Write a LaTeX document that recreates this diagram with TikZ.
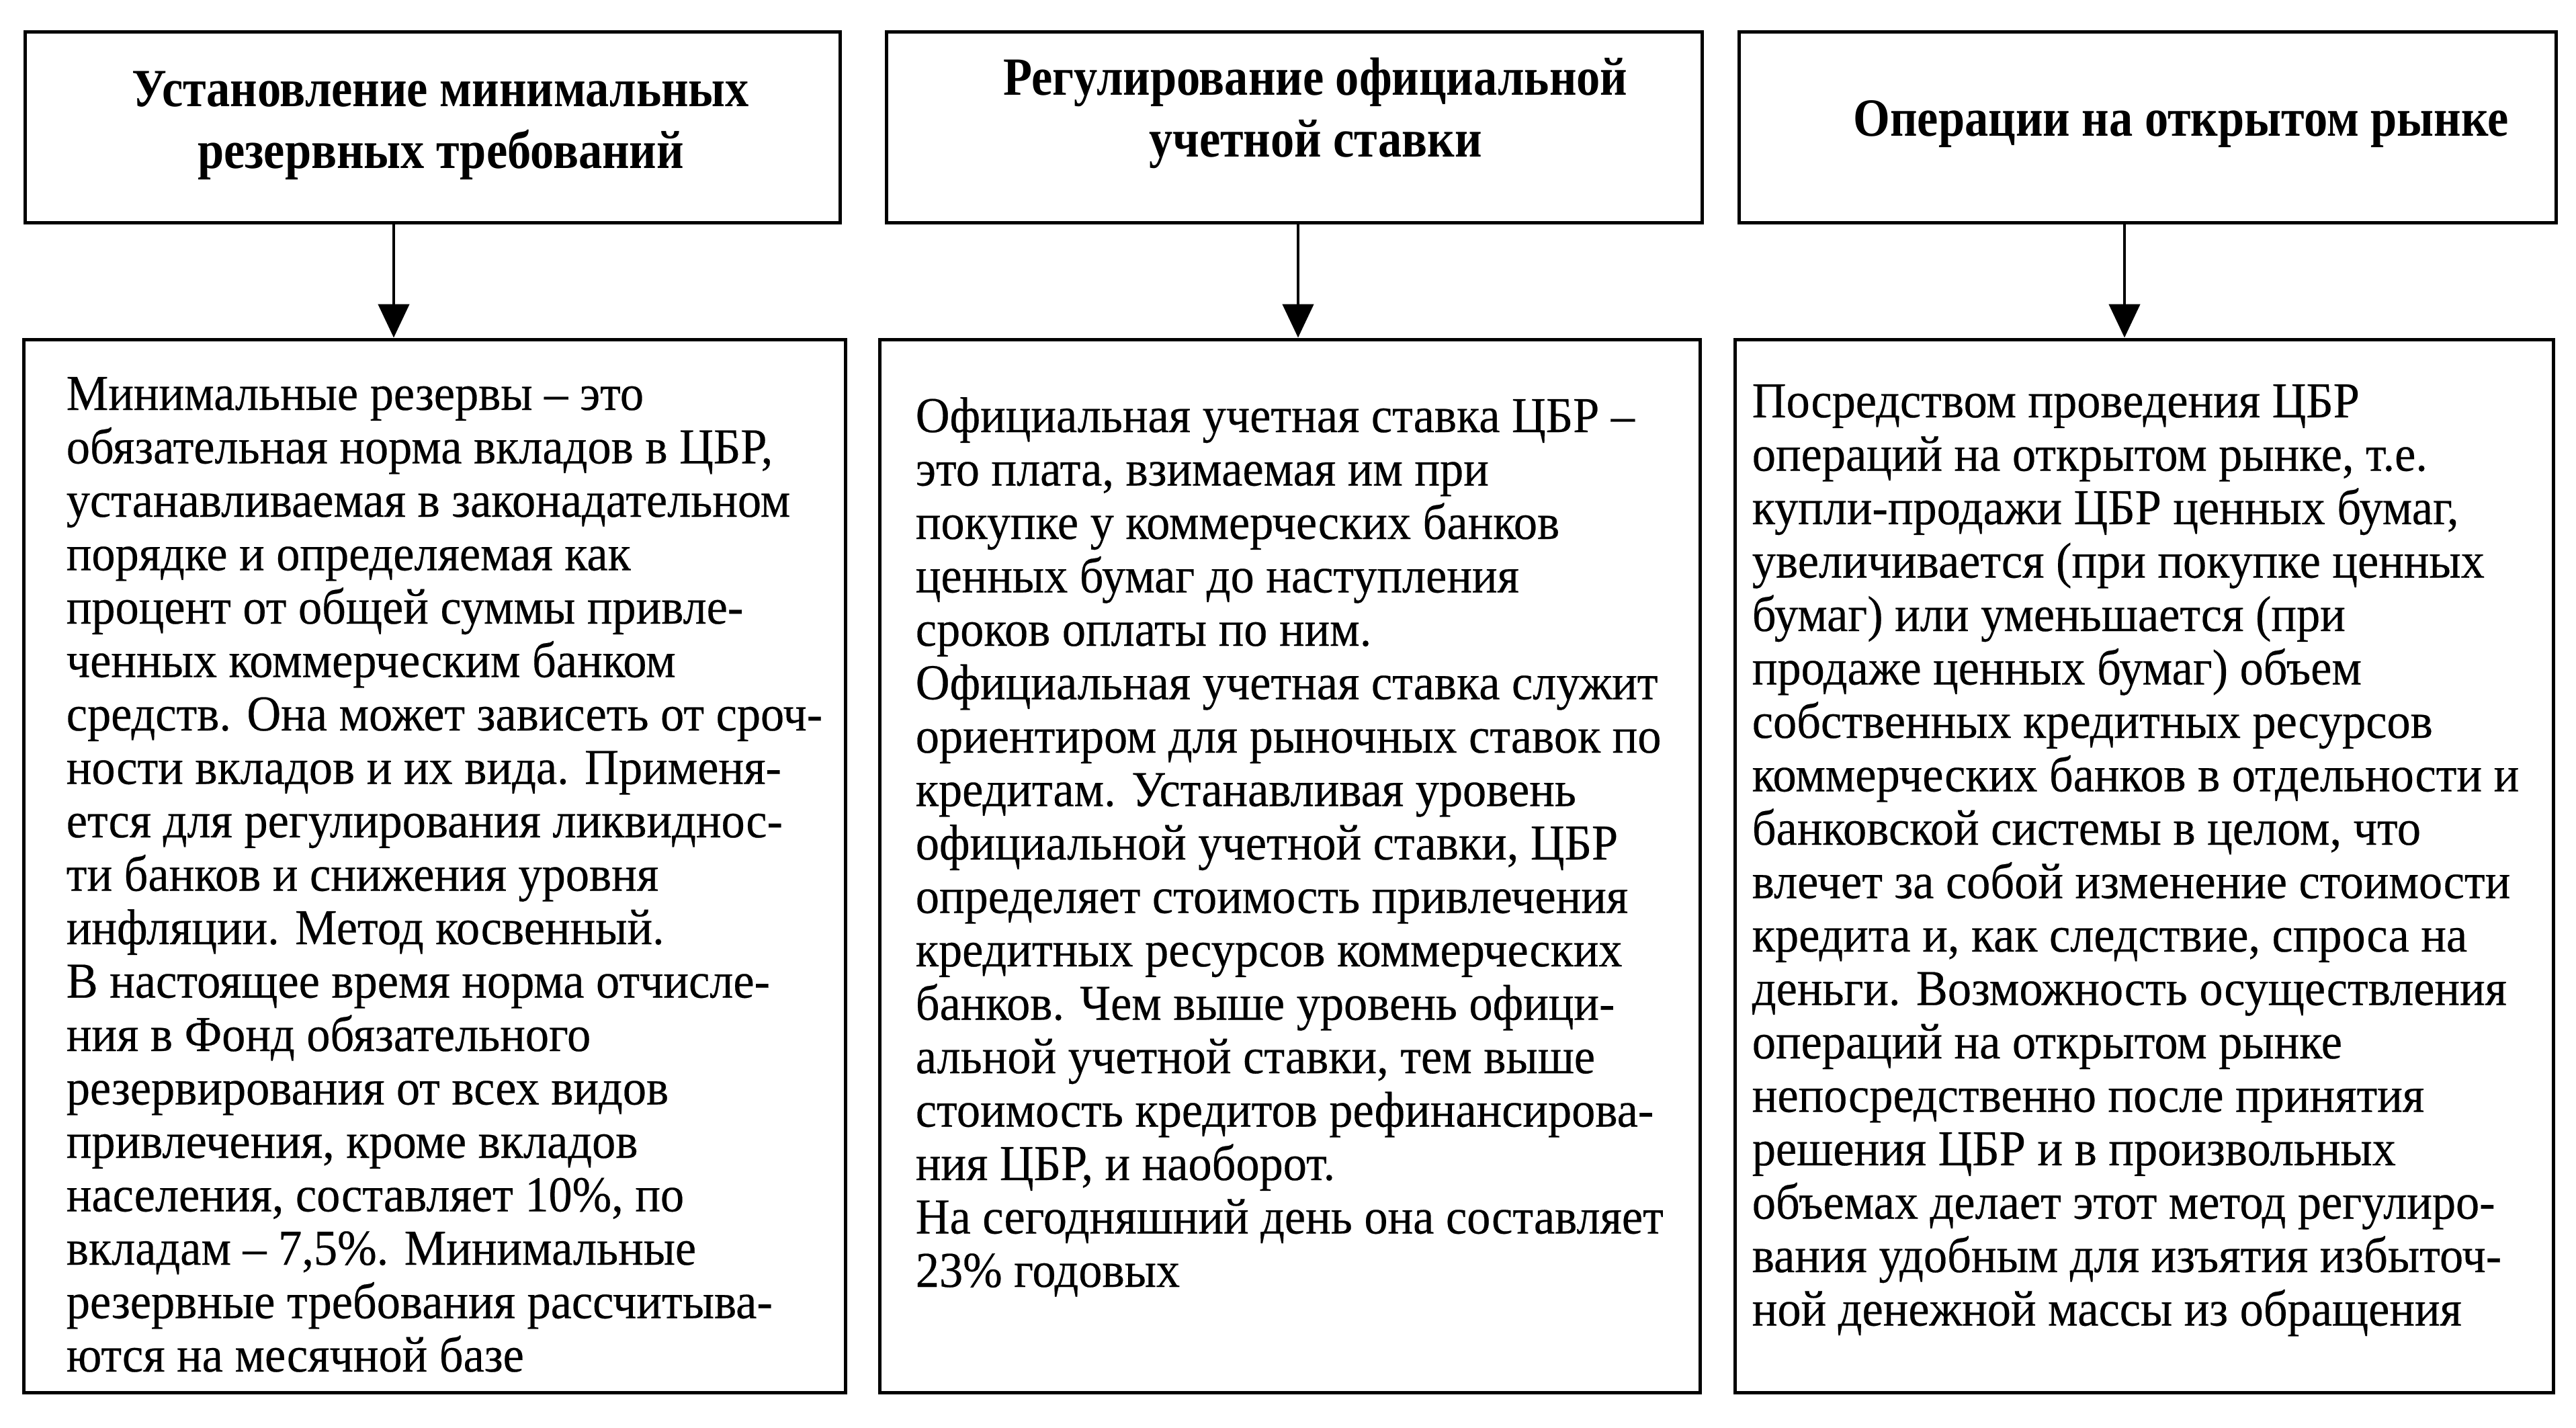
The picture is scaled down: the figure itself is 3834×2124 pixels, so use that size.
\documentclass[tikz,border=0pt]{standalone}
\usepackage{fontspec}
\setmainfont{Liberation Serif}
\newfontfamily\bodyfont{Liberation Serif}[FakeStretch=0.94,FakeBold=0.3]
\newfontfamily\headfont{Liberation Serif Bold}[FakeStretch=0.88]
\usetikzlibrary{arrows.meta}
\tikzset{
  box/.style={draw, line width=1.25pt, inner sep=0pt},
  head/.style={font=\headfont\fontsize{20}{23}\selectfont, inner sep=0pt, anchor=base},
  body/.style={font=\bodyfont\fontsize{18.7}{20}\selectfont, inner sep=0pt, anchor=base west},
  arr/.style={line width=1.2pt, -{Triangle[length=12.5pt,width=11.5pt]}}
}
\begin{document}
\begin{tikzpicture}[x=0.25pt,y=-0.25pt]
\fill[white] (0,0) rectangle (3834,2124);
\useasboundingbox (0,0) rectangle (3834,2124);

% top boxes
\node[box, minimum width=303.25pt, minimum height=71pt] (t1) at (643.5,189) {};
\node[box, minimum width=303.5pt, minimum height=71pt] (t2) at (1926,189) {};
\node[box, minimum width=304pt, minimum height=71pt] (t3) at (3196,189) {};

% bottom boxes
\node[box, minimum width=305.75pt, minimum height=391.75pt] (b1) at (646.5,1288.5) {};
\node[box, minimum width=305.25pt, minimum height=391.75pt] (b2) at (1919.5,1288.5) {};
\node[box, minimum width=304.5pt, minimum height=391.75pt] (b3) at (3191,1288.5) {};

% titles
\node[head] (h1a) at (656,158) {Установление минимальных};
\node[head] (h1b) at (656,250) {резервных требований};
\node[head] (h2a) at (1958,141) {Регулирование официальной};
\node[head] (h2b) at (1958,233) {учетной ставки};
\node[head] (h3a) at (3246,202) {Операции на открытом рынке};

% arrows
\coordinate (a1) at (586,0);
\coordinate (a2) at (1932,0);
\coordinate (a3) at (3162,0);
\draw[arr] (t1.south -| a1) -- (b1.north -| a1);
\draw[arr] (t2.south -| a2) -- (b2.north -| a2);
\draw[arr] (t3.south -| a3) -- (b3.north -| a3);

% body texts
\foreach \t [count=\i from 0] in {
  {Минимальные резервы – это},
  {обязательная норма вкладов в ЦБР,},
  {устанавливаемая в законадательном},
  {порядке и определяемая как},
  {процент от общей суммы привле-},
  {ченных коммерческим банком},
  {средств. Она может зависеть от сроч-},
  {ности вкладов и их вида. Применя-},
  {ется для регулирования ликвиднос-},
  {ти банков и снижения уровня},
  {инфляции. Метод косвенный.},
  {В настоящее время норма отчисле-},
  {ния в Фонд обязательного},
  {резервирования от всех видов},
  {привлечения, кроме вкладов},
  {населения, составляет 10\%, по},
  {вкладам – 7,5\%. Минимальные},
  {резервные требования рассчитыва-},
  {ются на месячной базе}}
  \node[body] (p1-\i) at (98,{610+79.5*\i}) {\t};

\foreach \t [count=\i from 0] in {
  {Официальная учетная ставка ЦБР –},
  {это плата, взимаемая им при},
  {покупке у коммерческих банков},
  {ценных бумаг до наступления},
  {сроков оплаты по ним.},
  {Официальная учетная ставка служит},
  {ориентиром для рыночных ставок по},
  {кредитам. Устанавливая уровень},
  {официальной учетной ставки, ЦБР},
  {определяет стоимость привлечения},
  {кредитных ресурсов коммерческих},
  {банков. Чем выше уровень офици-},
  {альной учетной ставки, тем выше},
  {стоимость кредитов рефинансирова-},
  {ния ЦБР, и наоборот.},
  {На сегодняшний день она составляет},
  {23\% годовых}}
  \node[body] (p2-\i) at (1362,{643+79.5*\i}) {\t};

\foreach \t [count=\i from 0] in {
  {Посредством проведения ЦБР},
  {операций на открытом рынке, т.е.},
  {купли-продажи ЦБР ценных бумаг,},
  {увеличивается (при покупке ценных},
  {бумаг) или уменьшается (при},
  {продаже ценных бумаг) объем},
  {собственных кредитных ресурсов},
  {коммерческих банков в отдельности и},
  {банковской системы в целом, что},
  {влечет за собой изменение стоимости},
  {кредита и, как следствие, спроса на},
  {деньги. Возможность осуществления},
  {операций на открытом рынке},
  {непосредственно после принятия},
  {решения ЦБР и в произвольных},
  {объемах делает этот метод регулиро-},
  {вания удобным для изъятия избыточ-},
  {ной денежной массы из обращения}}
  \node[body] (p3-\i) at (2607,{621+79.5*\i}) {\t};
\end{tikzpicture}
\end{document}
